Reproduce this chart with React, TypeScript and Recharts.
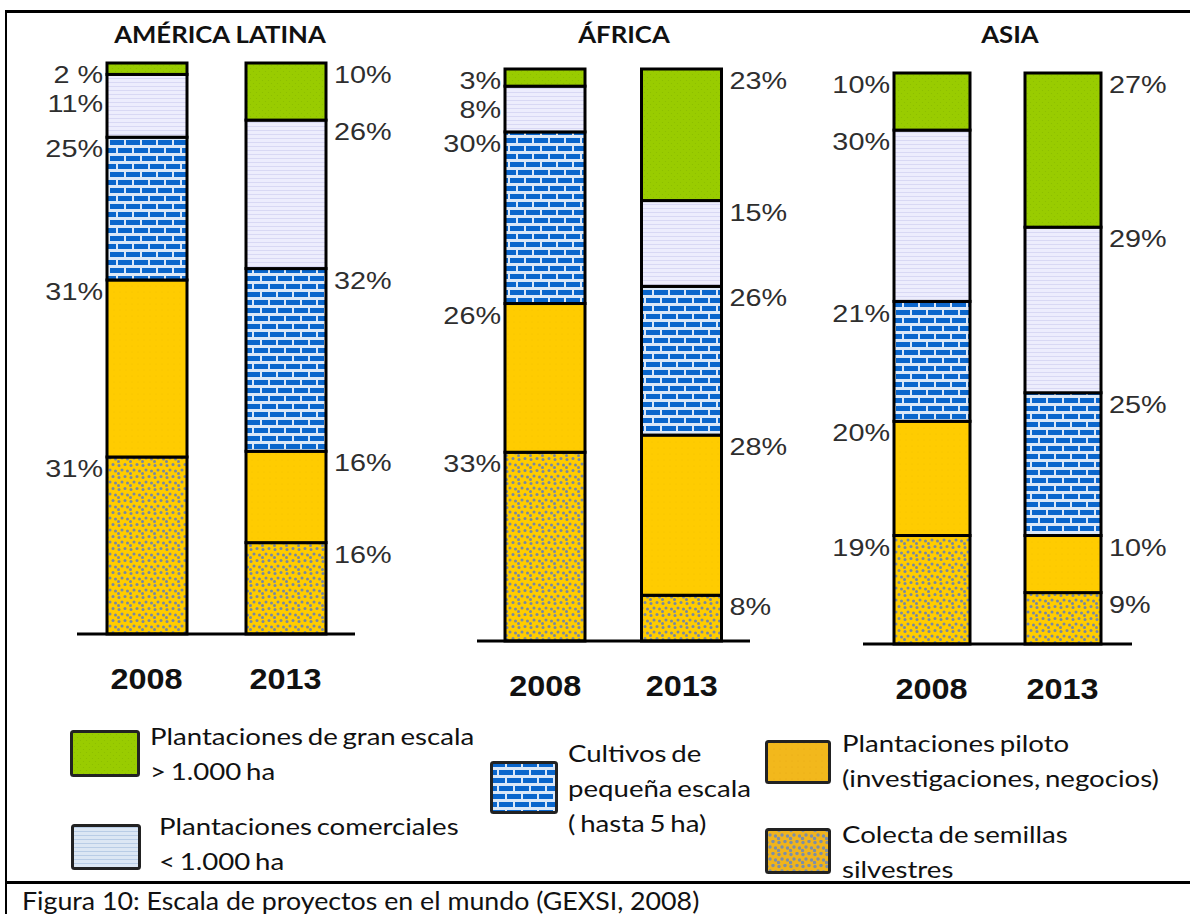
import React from 'react';
import { BarChart, Bar, XAxis, YAxis } from 'recharts';

// stacking order, top of the bar first
const seriesTopDown = ['granEscala', 'comerciales', 'cultivos', 'piloto', 'colecta'];
const years = ['2008', '2013'];
const regions = ['AMÉRICA LATINA', 'ÁFRICA', 'ASIA'];

// shares (%) read top -> bottom
const americaLatina2008 = [2, 11, 25, 31, 31];
const americaLatina2013 = [10, 26, 32, 16, 16];
const africa2008 = [3, 8, 30, 26, 33];
const africa2013 = [23, 15, 26, 28, 8];
const asia2008 = [10, 30, 21, 20, 19];
const asia2013 = [27, 29, 25, 10, 9];

const legendLines: Record<string, string[]> = {
  granEscala: ['Plantaciones de gran escala', '> 1.000 ha'],
  comerciales: ['Plantaciones comerciales', '< 1.000 ha'],
  cultivos: ['Cultivos de', 'pequeña escala', '( hasta 5 ha)'],
  piloto: ['Plantaciones piloto', '(investigaciones, negocios)'],
  colecta: ['Colecta de semillas', 'silvestres'],
};

const caption = 'Figura 10: Escala de proyectos en el mundo (GEXSI, 2008)';

// the source writes one label as "2 %"
const labelOverrides: Record<string, string> = { 'AMÉRICA LATINA|2008|granEscala': '2 %' };

const toRows = (v2008: number[], v2013: number[]) =>
  years.map((year, i) => {
    const vals = i === 0 ? v2008 : v2013;
    const row: any = { year };
    seriesTopDown.forEach((k, j) => (row[k] = vals[j]));
    return row;
  });

const panels = [
  { title: regions[0], rows: toRows(americaLatina2008, americaLatina2013), left: 77, top: 63, axisWidth: 278, plotHeight: 571, barSize: 80, padding: { left: 0, right: 0 }, titleX: 220 },
  { title: regions[1], rows: toRows(africa2008, africa2013), left: 477, top: 69, axisWidth: 273, plotHeight: 572, barSize: 80, padding: { left: 0, right: 0 }, titleX: 624 },
  { title: regions[2], rows: toRows(asia2008, asia2013), left: 863, top: 73, axisWidth: 269, plotHeight: 571, barSize: 76, padding: { left: 3, right: 4 }, titleX: 1010 },
];

const ML = 80;
const MR = 90;
const MT = 20;
const XH = 75;

const labelFont = "'Liberation Sans', Arial, sans-serif";
const textFont = "Lato, 'Open Sans', sans-serif";

const makeShape = (key: string, region: string) => (props: any) => {
  const { x, y, width, height, payload } = props;
  if (!payload || !height) return null;
  const vals = seriesTopDown.map((k) => payload[k]);
  const idx = seriesTopDown.indexOf(key);
  const unit = height / payload[key];
  const barTop = y - vals.slice(0, idx).reduce((a, b) => a + b, 0) * unit;
  // label centres sit just under each segment top, pushed down if they collide
  let acc = 0;
  let prev = -Infinity;
  let cy = 0;
  for (let i = 0; i <= idx; i++) {
    const top = barTop + acc * unit;
    cy = Math.max(top + 11.5, prev + 29);
    prev = cy;
    acc += vals[i];
  }
  const leftSide = payload.year === years[0];
  const tx = leftSide ? x - 4 : x + width + 8;
  const text = labelOverrides[`${region}|${payload.year}|${key}`] ?? `${payload[key]}%`;
  return (
    <g>
      <rect x={x} y={y} width={width} height={height} fill={`url(#pat-${key})`} stroke="#000" strokeWidth={3} />
      <g transform={`translate(${tx},${cy + 8.6}) scale(1.2,1)`}>
        <text x={0} y={0} textAnchor={leftSide ? 'end' : 'start'} fontFamily={labelFont} fontSize={24} fill="#2e2e2e">
          {text}
        </text>
      </g>
    </g>
  );
};

const YearTick = (props: any) => {
  const { x, y, payload } = props;
  return (
    <g transform={`translate(${x},${y + 55}) scale(1.08,1)`}>
      <text x={0} y={0} textAnchor="middle" fontFamily={labelFont} fontWeight="bold" fontSize={30} fill="#111">
        {payload.value}
      </text>
    </g>
  );
};

const Patterns = () => (
  <svg width={0} height={0} style={{ position: 'absolute' }}>
    <defs>
      <pattern id="pat-granEscala" patternUnits="userSpaceOnUse" width={6} height={6}>
        <rect width={6} height={6} fill="#99cc00" />
        <circle cx={1.5} cy={1.5} r={0.6} fill="#8bbd00" />
        <circle cx={4.5} cy={4.5} r={0.6} fill="#8bbd00" />
      </pattern>
      <pattern id="pat-comerciales" patternUnits="userSpaceOnUse" width={8} height={4}>
        <rect width={8} height={4} fill="#ededfd" />
        <rect y={3} width={8} height={1} fill="#d8d8f4" />
      </pattern>
      <pattern id="pat-cultivos" patternUnits="userSpaceOnUse" width={16} height={16}>
        <rect width={16} height={16} fill="#dbe8f8" />
        <rect x={1} y={1} width={14} height={5} fill="#0a66cc" />
        <rect x={-7} y={9} width={14} height={5} fill="#0a66cc" />
        <rect x={9} y={9} width={14} height={5} fill="#0a66cc" />
      </pattern>
      <pattern id="pat-piloto" patternUnits="userSpaceOnUse" width={6} height={6}>
        <rect width={6} height={6} fill="#ffcc00" />
        <circle cx={3} cy={3} r={0.5} fill="#f4c000" />
      </pattern>
      <pattern id="pat-colecta" patternUnits="userSpaceOnUse" width={12} height={12}>
        <rect width={12} height={12} fill="#ffcc00" />
        <circle cx={2} cy={2.5} r={1.5} fill="#7888a2" />
        <circle cx={8} cy={1.5} r={1.5} fill="#7888a2" />
        <circle cx={5} cy={7} r={1.5} fill="#7888a2" />
        <circle cx={10.5} cy={8} r={1.5} fill="#7888a2" />
        <circle cx={1.5} cy={10.5} r={1.5} fill="#7888a2" />
      </pattern>
      <pattern id="leg-comerciales" patternUnits="userSpaceOnUse" width={8} height={4}>
        <rect width={8} height={4} fill="#dce7f4" />
        <rect y={3} width={8} height={1} fill="#b9cde6" />
      </pattern>
      <pattern id="leg-piloto" patternUnits="userSpaceOnUse" width={6} height={6}>
        <rect width={6} height={6} fill="#f2b81c" />
        <circle cx={3} cy={3} r={0.5} fill="#e8a810" />
      </pattern>
      <pattern id="leg-colecta" patternUnits="userSpaceOnUse" width={12} height={12}>
        <rect width={12} height={12} fill="#f0b41c" />
        <circle cx={2} cy={2.5} r={1.7} fill="#7c8ea8" />
        <circle cx={8} cy={1.5} r={1.7} fill="#7c8ea8" />
        <circle cx={5} cy={7} r={1.7} fill="#7c8ea8" />
        <circle cx={10.5} cy={8} r={1.7} fill="#7c8ea8" />
        <circle cx={1.5} cy={10.5} r={1.7} fill="#7c8ea8" />
      </pattern>
    </defs>
  </svg>
);

const legendFill: Record<string, string> = {
  granEscala: 'url(#pat-granEscala)',
  comerciales: 'url(#leg-comerciales)',
  cultivos: 'url(#pat-cultivos)',
  piloto: 'url(#leg-piloto)',
  colecta: 'url(#leg-colecta)',
};

const legendLayout: Record<string, { box: [number, number, number, number]; tx: number; ty: number }> = {
  granEscala: { box: [72, 732, 66, 43], tx: 150, ty: 735 },
  comerciales: { box: [73, 826, 66, 42], tx: 159, ty: 825 },
  cultivos: { box: [492, 763, 64, 49], tx: 568, ty: 752 },
  piloto: { box: [767, 742, 62, 40], tx: 842, ty: 742 },
  colecta: { box: [767, 830, 62, 42], tx: 842, ty: 833 },
};

const LINE_H = 35;

export default function App() {
  return (
    <div style={{ position: 'absolute', left: 0, top: 0, width: 1190, height: 914, background: '#fff', overflow: 'hidden' }}>
      <Patterns />
      {/* frame */}
      <div style={{ position: 'absolute', left: 5, top: 10, width: 1185, height: 3, background: '#000' }} />
      <div style={{ position: 'absolute', left: 5, top: 10, width: 2, height: 904, background: '#000' }} />
      <div style={{ position: 'absolute', left: 5, top: 881, width: 1185, height: 3, background: '#000' }} />

      {panels.map((p) => (
        <React.Fragment key={p.title}>
          <div
            style={{
              position: 'absolute',
              left: p.titleX - 150,
              width: 300,
              top: 20,
              textAlign: 'center',
              fontFamily: textFont,
              fontWeight: 'bold',
              fontSize: 22,
              lineHeight: '30px',
              color: '#111',
              transform: 'scaleX(1.17)',
            }}
          >
            {p.title}
          </div>
          <div style={{ position: 'absolute', left: p.left - ML, top: p.top - MT }}>
            <BarChart
              width={p.axisWidth + ML + MR}
              height={p.plotHeight + MT + XH}
              data={p.rows}
              margin={{ top: MT, right: MR, bottom: 0, left: ML }}
              barCategoryGap={0}
            >
              <XAxis
                dataKey="year"
                height={XH}
                axisLine={{ stroke: '#000', strokeWidth: 3 }}
                tickLine={false}
                tickSize={0}
                tickMargin={0}
                tick={<YearTick />}
                padding={p.padding}
                interval={0}
              />
              <YAxis hide domain={[0, 100]} />
              {[...seriesTopDown].reverse().map((k) => (
                <Bar key={k} dataKey={k} stackId="a" barSize={p.barSize} isAnimationActive={false} shape={makeShape(k, p.title)} />
              ))}
            </BarChart>
          </div>
        </React.Fragment>
      ))}

      {/* legend */}
      {seriesTopDown.map((k) => {
        const l = legendLayout[k];
        const [bx, by, bw, bh] = l.box;
        return (
          <React.Fragment key={k}>
            <svg style={{ position: 'absolute', left: bx - 2, top: by - 2 }} width={bw + 4} height={bh + 4}>
              <rect x={1.5} y={1.5} width={bw + 1} height={bh + 1} rx={2} fill={legendFill[k]} stroke="#222" strokeWidth={3} />
            </svg>
            <div
              style={{
                position: 'absolute',
                left: l.tx,
                top: l.ty - LINE_H / 2,
                fontFamily: textFont,
                fontSize: 24,
                lineHeight: `${LINE_H}px`,
                color: '#111',
                whiteSpace: 'nowrap',
                wordSpacing: -2,
                transform: 'scaleX(1.15)',
                transformOrigin: 'left top',
              }}
            >
              {legendLines[k].map((t) => (
                <div key={t}>{t}</div>
              ))}
            </div>
          </React.Fragment>
        );
      })}

      <div
        style={{
          position: 'absolute',
          left: 22,
          top: 900 - 17,
          fontFamily: textFont,
          fontSize: 25,
          lineHeight: '34px',
          color: '#111',
          whiteSpace: 'nowrap',
          transform: 'scaleX(1.07)',
          transformOrigin: 'left top',
        }}
      >
        {caption}
      </div>
    </div>
  );
}
